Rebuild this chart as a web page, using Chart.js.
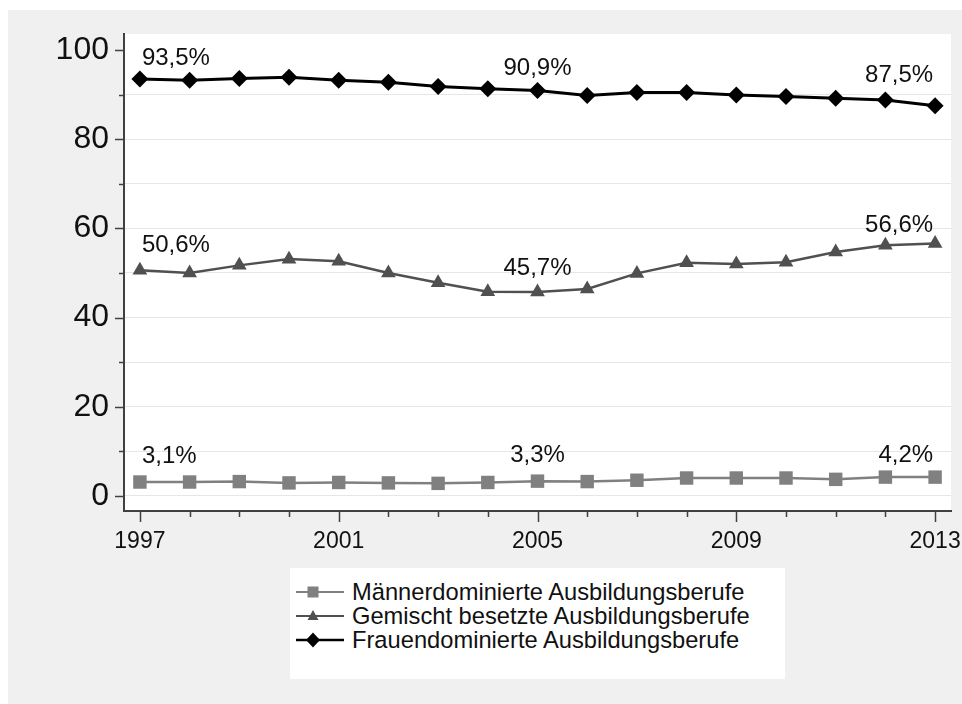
<!DOCTYPE html>
<html>
<head>
<meta charset="utf-8">
<script src="https://cdn.jsdelivr.net/npm/chart.js@4/dist/chart.umd.min.js"></script>
<style>
  html, body { margin: 0; padding: 0; background: #ffffff; }
  body { width: 962px; height: 704px; position: relative; overflow: hidden; font-family: "Liberation Sans", Arial, sans-serif; }
  #bg { position: absolute; left: 8px; top: 10px; right: 0; bottom: 0; background: #f0f0f0; }
  #wrap { position: absolute; left: 0; top: 0; width: 962px; height: 704px; }
  #legend { position: absolute; left: 290px; top: 568px; width: 495px; height: 111px; background: #ffffff; box-sizing: border-box; padding-top: 12px; padding-left: 6px; }
  .row { display: flex; align-items: center; height: 24px; font-size: 23.7px; line-height: 24px; color: #111111; white-space: nowrap; }
  .row svg { flex: none; margin-right: 8px; }
</style>
</head>
<body>
<div id="bg"></div>
<div id="wrap"><canvas id="c" width="962" height="704"></canvas></div>
<div id="legend"></div>
<script>
// ---- data ----
const years = [1997, 1998, 1999, 2000, 2001, 2002, 2003, 2004, 2005, 2006, 2007, 2008, 2009, 2010, 2011, 2012, 2013];
const maenner = [3.1, 3.1, 3.2, 2.9, 3.0, 2.9, 2.8, 3.0, 3.3, 3.2, 3.5, 4.0, 4.0, 4.0, 3.7, 4.2, 4.2];
const gemischt = [50.6, 50.0, 51.7, 53.1, 52.6, 50.0, 47.8, 45.8, 45.7, 46.4, 49.9, 52.3, 52.0, 52.4, 54.7, 56.2, 56.6];
const frauen = [93.5, 93.2, 93.6, 93.9, 93.2, 92.8, 91.8, 91.3, 90.9, 89.8, 90.5, 90.5, 89.9, 89.6, 89.2, 88.8, 87.5];
const seriesNames = ["Männerdominierte Ausbildungsberufe", "Gemischt besetzte Ausbildungsberufe", "Frauendominierte Ausbildungsberufe"];
const labelledYears = [1997, 2005, 2013];
const yTickLabels = [0, 20, 40, 60, 80, 100];
const xTickLabels = [1997, 2001, 2005, 2009, 2013];

function fmt(v) { return v.toFixed(1).replace('.', ',') + '%'; }

const colors = ['#808080', '#505050', '#000000'];

const plotBg = {
  id: 'plotBg',
  beforeDraw(chart) {
    const {ctx, chartArea: a} = chart;
    ctx.save();
    ctx.fillStyle = '#ffffff';
    ctx.fillRect(a.left, a.top, a.right - a.left, a.bottom - a.top);
    ctx.restore();
  }
};

const tickMarks = {
  id: 'tickMarks',
  afterDraw(chart) {
    const {ctx, chartArea: a, scales} = chart;
    ctx.save();
    ctx.strokeStyle = '#404040';
    ctx.lineWidth = 1.5;
    ctx.beginPath();
    for (let v = 0; v <= 100; v += 10) {
      const y = Math.round(scales.y.getPixelForValue(v)) + 0.5;
      const len = (yTickLabels.indexOf(v) >= 0) ? 9 : 5;
      ctx.moveTo(a.left - len, y); ctx.lineTo(a.left, y);
    }
    for (const yr of years) {
      const x = Math.round(scales.x.getPixelForValue(yr)) + 0.5;
      const len = (xTickLabels.indexOf(yr) >= 0) ? 11 : 6;
      ctx.moveTo(x, a.bottom); ctx.lineTo(x, a.bottom + len);
    }
    ctx.stroke();
    ctx.restore();
  }
};

// per-label placement (style): baseline offset above point, alignment
const labelStyle = {
  align: ['left', 'center', 'right'],
  dx: [2, 0, -2],
  dy: [[19, 19, 15], [18, 17, 12], [14, 16, 24]]
};

const valueLabels = {
  id: 'valueLabels',
  afterDatasetsDraw(chart) {
    const {ctx, scales} = chart;
    ctx.save();
    ctx.font = '24px "Liberation Sans", Arial, sans-serif';
    ctx.fillStyle = '#111111';
    ctx.textBaseline = 'alphabetic';
    chart.data.datasets.forEach((ds, di) => {
      labelledYears.forEach((yr, li) => {
        const idx = years.indexOf(yr);
        const val = ds.data[idx].y;
        const x = scales.x.getPixelForValue(yr) + labelStyle.dx[li];
        const y = scales.y.getPixelForValue(val) - labelStyle.dy[di][li];
        ctx.textAlign = labelStyle.align[li];
        ctx.fillText(fmt(val), x, y);
      });
    });
    ctx.restore();
  }
};

function toPts(arr) { return years.map((yr, i) => ({x: yr, y: arr[i]})); }

const chart = new Chart(document.getElementById('c'), {
  type: 'line',
  data: {
    datasets: [
      { label: seriesNames[0], data: toPts(maenner), borderColor: colors[0], backgroundColor: colors[0],
        borderWidth: 2.5, pointStyle: 'rect', pointRadius: 9.5, pointBorderWidth: 0, tension: 0 },
      { label: seriesNames[1], data: toPts(gemischt), borderColor: colors[1], backgroundColor: colors[1],
        borderWidth: 2.5, pointStyle: 'triangle', pointRadius: 8.5, pointBorderWidth: 0, tension: 0 },
      { label: seriesNames[2], data: toPts(frauen), borderColor: colors[2], backgroundColor: colors[2],
        borderWidth: 3, pointStyle: 'rectRot', pointRadius: 8.5, pointBorderWidth: 0, tension: 0 }
    ]
  },
  options: {
    responsive: false,
    animation: false,
    events: [],
    layout: { padding: { left: 0, top: 34, right: 11, bottom: 143 } },
    plugins: { legend: { display: false }, tooltip: { enabled: false } },
    scales: {
      x: {
        type: 'linear',
        min: 1996.68, max: 2013.32,
        grid: { display: false, drawTicks: false },
        border: { display: true, color: '#404040', width: 2 },
        ticks: {
          stepSize: 1, includeBounds: false, autoSkip: false, maxRotation: 0, padding: 17,
          color: '#111111', font: { family: '"Liberation Sans", Arial, sans-serif', size: 23 },
          callback: (v) => xTickLabels.indexOf(v) >= 0 ? String(v) : ''
        },
        afterFit(s) { s.height = 50; s.paddingLeft = 0; s.paddingRight = 0; }
      },
      y: {
        min: -3.4, max: 103.6,
        grid: { drawTicks: false, color: (c) => (c.tick && c.tick.value === 100) ? 'rgba(0,0,0,0)' : '#e6e6e6', lineWidth: 1 },
        border: { display: true, color: '#404040', width: 2 },
        ticks: {
          stepSize: 10, includeBounds: false, padding: 15,
          color: '#111111', font: { family: '"Liberation Sans", Arial, sans-serif', size: 32 },
          callback: (v) => yTickLabels.indexOf(v) >= 0 ? String(v) : ''
        },
        afterFit(s) { s.width = 124; s.paddingTop = 0; s.paddingBottom = 0; }
      }
    }
  },
  plugins: [plotBg, tickMarks, valueLabels]
});

// HTML legend
const legend = document.getElementById('legend');
const markerSvg = [
  '<rect x="8.5" y="6.5" width="11" height="11" fill="#808080"/>',
  '<polygon points="14,6 19.5,16 8.5,16" fill="#505050"/>',
  '<polygon points="14,4.5 21,12 14,19.5 7,12" fill="#000000"/>'
];
const lineW = [2, 2, 2.5];
seriesNames.forEach((name, i) => {
  const row = document.createElement('div');
  row.className = 'row';
  row.innerHTML = '<svg width="48" height="24" viewBox="-3 0 48 24"><line x1="-3" y1="12" x2="45" y2="12" stroke="' + colors[i] + '" stroke-width="' + lineW[i] + '"/>' + markerSvg[i] + '</svg>';
  const span = document.createElement('span');
  span.textContent = name;
  row.appendChild(span);
  legend.appendChild(row);
});
</script>
</body>
</html>
